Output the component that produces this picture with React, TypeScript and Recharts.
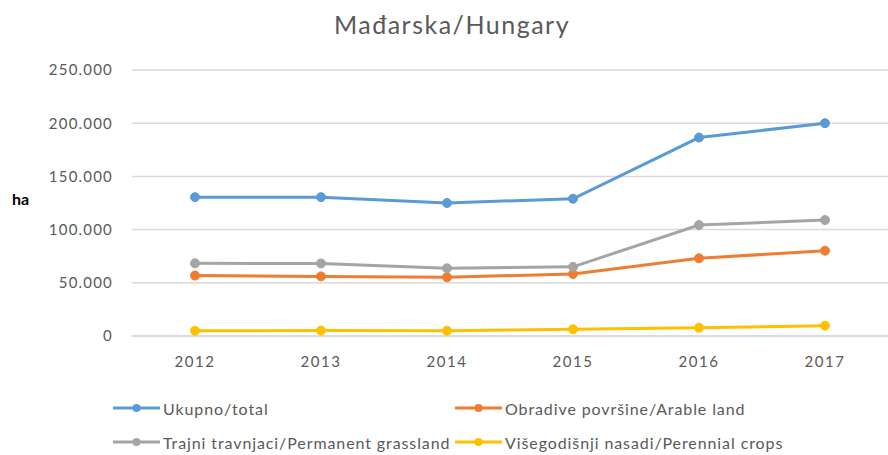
import { LineChart, Line, XAxis, YAxis, CartesianGrid, Legend } from "recharts";

const years = ["2012", "2013", "2014", "2015", "2016", "2017"];
const total = [130500, 130500, 125000, 129000, 186500, 200000];
const arable = [56800, 56000, 55200, 58300, 73000, 80200];
const grassland = [68300, 68200, 63600, 65000, 104300, 109000];
const perennial = [5000, 5100, 5000, 6300, 7800, 9700];
const yTicks = [0, 50000, 100000, 150000, 200000, 250000];

const SERIES = [
  { key: "total", name: "Ukupno/total", color: "#5b9bd5" },
  { key: "arable", name: "Obradive površine/Arable land", color: "#ed7d31" },
  { key: "grassland", name: "Trajni travnjaci/Permanent grassland", color: "#a5a5a5" },
  { key: "perennial", name: "Višegodišnji nasadi/Perennial crops", color: "#ffc000" },
];

// legend slots as in the original: two columns, two rows
const LEGEND_POS = [
  { left: 113, top: 0 },
  { left: 455, top: 0 },
  { left: 113, top: 34 },
  { left: 455, top: 34 },
];

const data = years.map((year, i) => ({
  year,
  total: total[i],
  arable: arable[i],
  grassland: grassland[i],
  perennial: perennial[i],
}));

const FONT = "Lato, 'Open Sans', sans-serif";

const formatTick = (v: number) =>
  v === 0 ? "0" : String(v).replace(/\B(?=(\d{3})+(?!\d))/g, ".");

function LegendItem({ name, color }: { name: string; color: string }) {
  return (
    <span style={{ display: "inline-flex", alignItems: "center", whiteSpace: "nowrap" }}>
      <svg width={47} height={12} style={{ marginRight: 3 }}>
        <line x1={0} y1={6} x2={47} y2={6} stroke={color} strokeWidth={3} />
        <circle cx={23.5} cy={6} r={4} fill={color} />
      </svg>
      <span>{name}</span>
    </span>
  );
}

function renderLegend() {
  return (
    <div
      style={{
        fontFamily: FONT,
        fontSize: 16,
        letterSpacing: 0.9,
        color: "#595959",
        position: "relative",
        height: 60,
      }}
    >
      {SERIES.map((s, i) => (
        <div key={s.key} style={{ position: "absolute", ...LEGEND_POS[i] }}>
          <LegendItem name={s.name} color={s.color} />
        </div>
      ))}
    </div>
  );
}

export default function App() {
  return (
    <div style={{ position: "absolute", left: 0, top: 0, width: 888, height: 455, background: "#fff" }}>
      <div
        style={{
          position: "absolute",
          left: 0,
          width: 904,
          top: 9,
          textAlign: "center",
          fontFamily: FONT,
          fontSize: 25,
          letterSpacing: 1.5,
          color: "#595959",
        }}
      >
        Mađarska/Hungary
      </div>
      <div
        style={{
          position: "absolute",
          left: 12,
          top: 189,
          fontFamily: FONT,
          fontSize: 16,
          fontWeight: "bold",
          color: "#000",
        }}
      >
        ha
      </div>
      <LineChart
        width={888}
        height={455}
        data={data}
        margin={{ top: 70, right: 0, bottom: 29, left: 0 }}
      >
        <CartesianGrid vertical={false} stroke="#d9d9d9" strokeWidth={1.5} />
        <XAxis
          dataKey="year"
          padding={{ left: 63, right: 63 }}
          axisLine={{ stroke: "#d9d9d9", strokeWidth: 1.5 }}
          tickLine={false}
          tickMargin={14}
          height={30}
          tick={{ fill: "#595959", fontSize: 15, letterSpacing: 1.5, fontFamily: FONT }}
        />
        <YAxis
          width={132}
          domain={[0, 250000]}
          ticks={yTicks}
          axisLine={false}
          tickLine={false}
          tickMargin={13}
          tickFormatter={formatTick}
          tick={{ fill: "#595959", fontSize: 15, letterSpacing: 1.2, fontFamily: FONT }}
        />
        {SERIES.map((s) => (
          <Line
            key={s.key}
            dataKey={s.key}
            name={s.name}
            stroke={s.color}
            strokeWidth={3}
            dot={{ r: 4.5, fill: s.color, stroke: s.color, strokeWidth: 1 }}
            isAnimationActive={false}
          />
        ))}
        <Legend
          content={renderLegend}
          wrapperStyle={{ position: "absolute", left: 0, top: 398, width: 888 }}
        />
      </LineChart>
    </div>
  );
}
